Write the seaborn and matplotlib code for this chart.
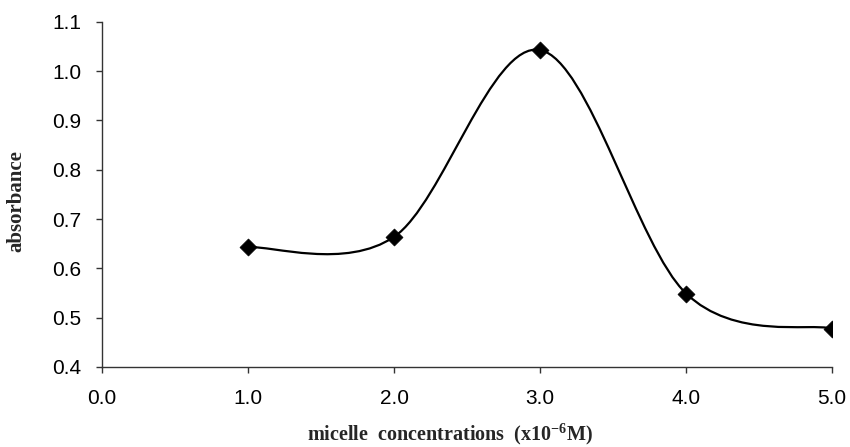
import matplotlib
matplotlib.use("Agg")
import matplotlib.pyplot as plt
from matplotlib.path import Path
from matplotlib.patches import PathPatch
import seaborn as sns
import pandas as pd

# micelle concentration (x10^-6 M) vs absorbance
conc = [1.0, 2.0, 3.0, 4.0, 5.0]
absorb = [0.643, 0.664, 1.043, 0.549, 0.478]

x_ticks = [0.0, 1.0, 2.0, 3.0, 4.0, 5.0]
y_ticks = [0.4, 0.5, 0.6, 0.7, 0.8, 0.9, 1.0, 1.1]

df = pd.DataFrame({"conc": conc, "absorbance": absorb})

sns.set_style("ticks")
plt.rcParams["font.family"] = ["Liberation Sans", "DejaVu Sans"]
plt.rcParams["mathtext.fontset"] = "custom"
plt.rcParams["mathtext.rm"] = "Liberation Serif:bold"
plt.rcParams["mathtext.bf"] = "Liberation Serif:bold"
plt.rcParams["mathtext.it"] = "Liberation Serif:bold"

fig = plt.figure(figsize=(8.5, 4.47), dpi=100)
ax = fig.add_axes([0.12, 0.179, 0.859, 0.772])


# Excel-style smoothed line: cubic bezier segments (catmull-rom control points)
def smooth_path(xs, ys):
    pts = list(zip(xs, ys))
    verts = [pts[0]]
    codes = [Path.MOVETO]
    n = len(pts)
    for i in range(n - 1):
        p0 = pts[max(i - 1, 0)]
        p1 = pts[i]
        p2 = pts[i + 1]
        p3 = pts[min(i + 2, n - 1)]
        c1 = (p1[0] + (p2[0] - p0[0]) / 6, p1[1] + (p2[1] - p0[1]) / 6)
        c2 = (p2[0] - (p3[0] - p1[0]) / 6, p2[1] - (p3[1] - p1[1]) / 6)
        verts += [c1, c2, p2]
        codes += [Path.CURVE4] * 3
    return Path(verts, codes)


ax.add_patch(PathPatch(smooth_path(conc, absorb), transform=ax.transData,
                       facecolor="none", edgecolor="black", lw=1.6, zorder=2))

sns.scatterplot(data=df, x="conc", y="absorbance", marker="D", s=75,
                color="black", edgecolor="black", linewidth=0.5, ax=ax, zorder=3)

ax.set_xlim(0, 5)
ax.set_ylim(0.4, 1.1)
ax.set_xticks(x_ticks)
ax.set_xticklabels([f"{v:.1f}" for v in x_ticks])
ax.set_yticks(y_ticks)
ax.set_yticklabels([f"{v:.1f}" for v in y_ticks])
ax.tick_params(axis="both", labelsize=15, colors="#333333", labelcolor="black",
               length=4, width=1, direction="out")
ax.tick_params(axis="x", pad=12)
ax.tick_params(axis="y", pad=11)

sns.despine(ax=ax)
for side in ["left", "bottom"]:
    ax.spines[side].set_color("#333333")
    ax.spines[side].set_linewidth(1)

ax.set_xlabel(r"micelle  concentrations  (x10$^{\mathrm{-6}}$M)",
              family="Liberation Serif", fontweight="bold", fontsize=14.5)
ax.set_ylabel("absorbance", family="Liberation Serif", fontweight="bold",
              fontsize=15)
ax.xaxis.set_label_coords(0.477, -0.158)
ax.yaxis.set_label_coords(-0.103, 0.481)

fig.savefig("out.png", dpi=100)
